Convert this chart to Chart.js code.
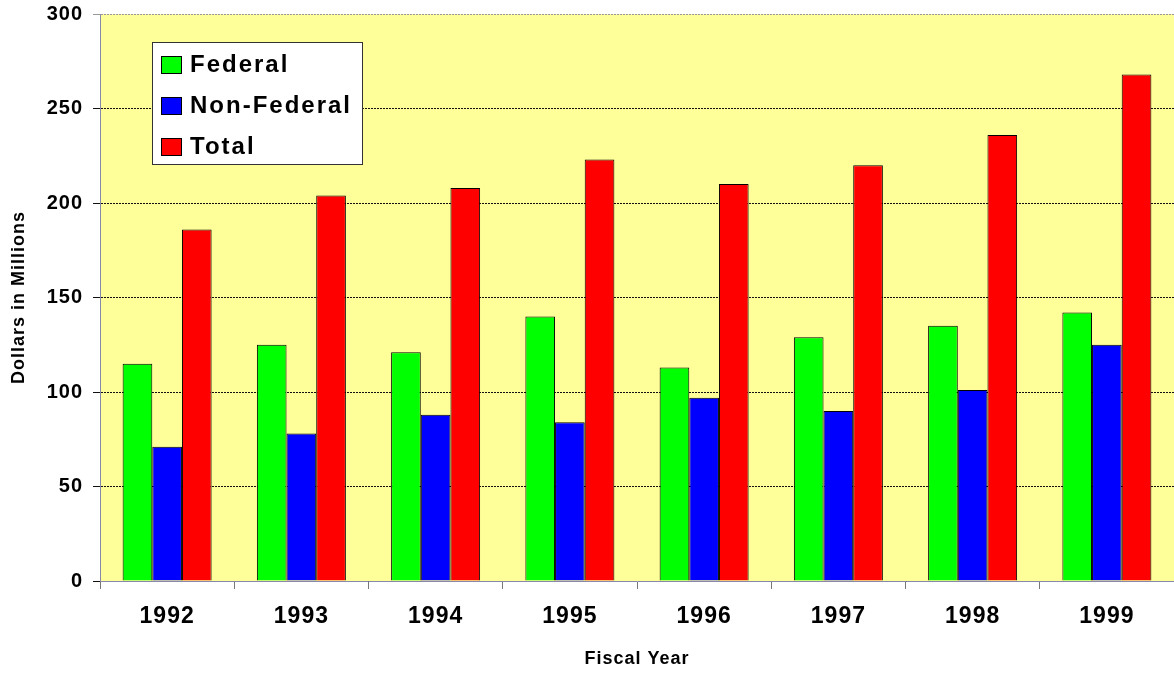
<!DOCTYPE html>
<html>
<head>
<meta charset="utf-8">
<script src="https://cdn.jsdelivr.net/npm/chart.js@4/dist/chart.umd.min.js"></script>
<style>
  html, body { margin: 0; padding: 0; background: #fff; }
  #wrap { width: 1174px; height: 676px; }
</style>
</head>
<body>
<div id="wrap"><canvas id="grafico"></canvas></div>
<script>
// dados
var anos = ['1992', '1993', '1994', '1995', '1996', '1997', '1998', '1999']
var federal = [115, 125, 121, 140, 113, 129, 135, 142]
var naoFederal = [71, 78, 88, 84, 97, 90, 101, 125]
var total = [186, 204, 208, 223, 210, 220, 236, 268]
var ticksY = [0, 50, 100, 150, 200, 250, 300]

var fonte = 'Arial, "Liberation Sans", sans-serif'

// fundo amarelo da area do grafico + espacamento das letras
var fundoPlugin = {
    id: 'fundo',
    beforeDraw: function(chart){
        var ctx = chart.ctx
        var a = chart.chartArea
        ctx.letterSpacing = '1px'
        ctx.save()
        ctx.fillStyle = '#ffff99'
        ctx.fillRect(a.left, a.top, a.right - a.left, a.bottom - a.top)
        ctx.restore()
    }
}

// legenda desenhada dentro da area, com caixa branca
var legendaPlugin = {
    id: 'legendaCaixa',
    afterDraw: function(chart){
        var ctx = chart.ctx
        var a = chart.chartArea
        var x = a.left + 52, y = a.top + 28
        ctx.save()
        ctx.fillStyle = '#ffffff'
        ctx.fillRect(x, y, 210, 122)
        ctx.strokeStyle = '#333'
        ctx.lineWidth = 1
        ctx.strokeRect(x + 0.5, y + 0.5, 210, 122)
        ctx.font = 'bold 24px ' + fonte
        ctx.letterSpacing = '2px'
        ctx.textBaseline = 'middle'
        chart.data.datasets.forEach(function(ds, i){
            var cy = y + 22 + i * 41
            ctx.fillStyle = ds.backgroundColor
            ctx.fillRect(x + 9, cy - 8, 20, 17)
            ctx.strokeStyle = '#000'
            ctx.strokeRect(x + 9.5, cy - 7.5, 20, 17)
            ctx.fillStyle = '#000'
            ctx.fillText(ds.label, x + 38, cy + 1)
        })
        ctx.restore()
    }
}

var data = {
    labels: anos,
    datasets: [
        { label: 'Federal', data: federal, backgroundColor: '#00ff00' },
        { label: 'Non-Federal', data: naoFederal, backgroundColor: '#0000ff' },
        { label: 'Total', data: total, backgroundColor: '#ff0000' }
    ].map(function(d){
        d.borderColor = '#000'
        d.borderWidth = 1
        d.barPercentage = 1
        d.categoryPercentage = 0.663
        return d
    })
}

new Chart(document.getElementById('grafico'), {
    type: 'bar',
    data: data,
    plugins: [fundoPlugin, legendaPlugin],
    options: {
        responsive: true,
        maintainAspectRatio: false,
        animation: false,
        layout: { padding: { top: 14, left: 0, right: 0, bottom: 0 } },
        plugins: {
            legend: { display: false },
            tooltip: { enabled: false }
        },
        scales: {
            x: {
                grid: {
                    offset: true,
                    drawOnChartArea: false,
                    tickLength: 8,
                    color: '#777'
                },
                border: { color: '#8888aa' },
                ticks: {
                    color: '#000',
                    padding: 14,
                    font: { family: fonte, size: 23, weight: 'bold' }
                },
                title: {
                    display: true,
                    text: 'Fiscal Year',
                    color: '#000',
                    padding: { top: 0, bottom: 6 },
                    font: { family: fonte, size: 18, weight: 'bold' }
                },
                afterFit: function(scale){
                    scale.height = 95
                    scale.paddingLeft = 0
                    scale.paddingRight = 0
                }
            },
            y: {
                min: 0,
                max: 300,
                afterBuildTicks: function(scale){
                    scale.ticks = ticksY.map(function(v){ return { value: v } })
                },
                grid: {
                    tickLength: 7,
                    color: function(c){
                        if (c.tick && c.tick.value == 300) return '#999'
                        return '#111'
                    }
                },
                border: { color: '#8888aa', dash: [2, 1] },
                ticks: {
                    color: '#000',
                    padding: 10,
                    font: { family: fonte, size: 20, weight: 'bold' }
                },
                title: {
                    display: true,
                    text: 'Dollars in Millions',
                    color: '#000',
                    padding: { top: 8, bottom: 0 },
                    font: { family: fonte, size: 18, weight: 'bold' }
                },
                afterFit: function(scale){
                    scale.width = 100
                    scale.paddingTop = 0
                    scale.paddingBottom = 0
                }
            }
        }
    }
})
</script>
</body>
</html>
